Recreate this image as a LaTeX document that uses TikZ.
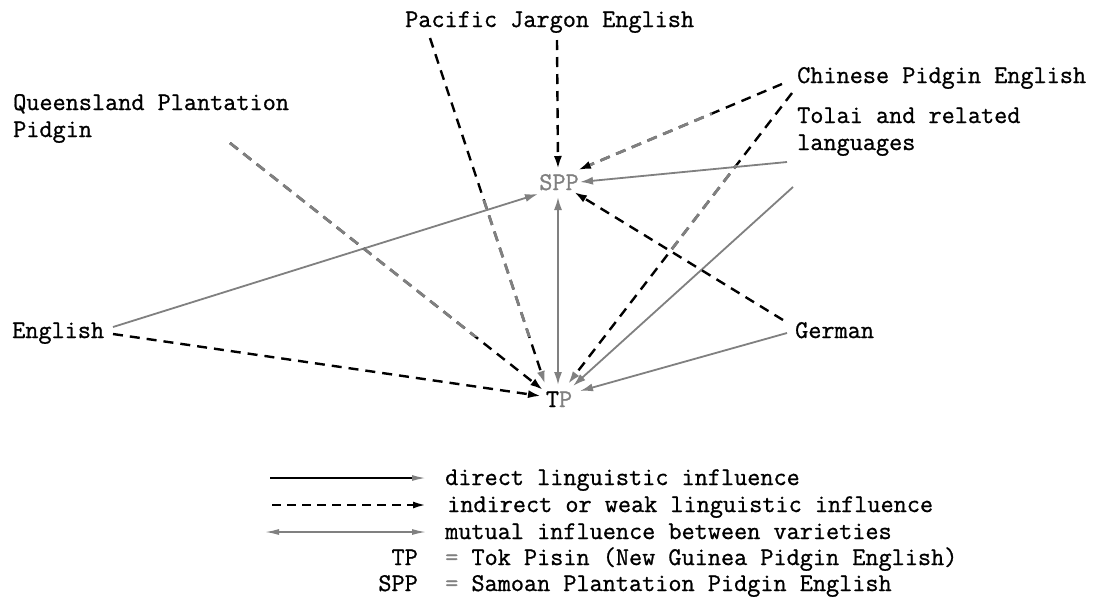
\documentclass[tikz,border=0pt]{standalone}
\usepackage{fontspec}
\newfontfamily\typew[FakeBold=0.9]{Latin Modern Mono}
\usetikzlibrary{arrows.meta}
\definecolor{ink}{HTML}{808080}
\begin{document}
\begin{tikzpicture}[x=1pt,y=-1pt,
  lbl/.style={font=\typew\fontsize{25.5}{27}\selectfont, inner sep=0pt, anchor=base west, align=left},
  tip/.style={-{Latex[length=13pt,width=8pt]}},
  tipg/.style={-{Latex[length=13pt,width=8pt,color=ink]}},
  solidg/.style={draw=ink, line width=1.8pt, -{Latex[length=13pt,width=8pt,color=ink]}},
  dashb/.style={draw=black, line width=2.4pt, dash pattern=on 10pt off 7pt},
  fadeg/.style={draw=ink, line width=2.8pt, dash pattern=on 10pt off 7pt},
]
\useasboundingbox (0,0) rectangle (1094,598);
\fill[white] (0,0) rectangle (1094,598);

% --- labels
\node[lbl] (pje) at (405,27) {Pacific Jargon English};
\node[lbl] (cpe) at (797,83) {Chinese Pidgin English};
\node[lbl] (qpp) at (13,137) {Queensland Plantation\\Pidgin};
\node[lbl] (tol) at (797,150) {Tolai and related\\languages};
\node[lbl] (eng) at (12,338) {English};
\node[lbl] (ger) at (795,338) {German};
\node[lbl, anchor=base, text=ink] (spp) at (559,190) {SPP};
\node[lbl, anchor=base] (tp) at (559,407) {T\textcolor{ink}{P}};

% --- attachment points
\coordinate (pje-a) at (430,38);
\coordinate (pje-b) at (557,40);
\coordinate (cpe-a) at (782,84);
\coordinate (cpe-b) at (792,93);
\coordinate (qpp-a) at (230,143);
\coordinate (tol-a) at (787,162);
\coordinate (tol-b) at (793,187);
\coordinate (eng-a) at (113,327);
\coordinate (eng-b) at (113,334);
\coordinate (ger-a) at (783,320);
\coordinate (ger-b) at (787,333);
\coordinate (spp-n) at (558,169);
\coordinate (spp-ne) at (578,170);
\coordinate (spp-e) at (580,182);
\coordinate (spp-w) at (538,194);
\coordinate (spp-se) at (574,192);
\coordinate (spp-s) at (558,197);
\coordinate (tp-n) at (558,385);
\coordinate (tp-nw1) at (545,384);
\coordinate (tp-nw2) at (543,390);
\coordinate (tp-w) at (541,396);
\coordinate (tp-ne1) at (568,384);
\coordinate (tp-ne2) at (573,386);
\coordinate (tp-e) at (580,391);

% --- solid grey connectors
\draw[solidg] (tol-a) -- (spp-e);
\draw[solidg] (tol-b) -- (tp-ne2);
\draw[solidg] (eng-a) -- (spp-w);
\draw[solidg] (ger-b) -- (tp-e);
\draw[solidg, {Latex[length=13pt,width=8pt,color=ink]}-{Latex[length=13pt,width=8pt,color=ink]}] (spp-s) -- (tp-n);

% --- dashed connectors
\draw[dashb, tip] (pje-b) -- (spp-n);
\draw[dashb, tipg] (pje-a) -- (tp-nw1);
\begin{scope}\clip (0,200) rectangle (1094,336);
\draw[fadeg] (pje-a) -- (tp-nw1);
\end{scope}
\draw[dashb, tip] (cpe-a) -- (spp-ne);
\begin{scope}\clip (590,0) rectangle (712,598);
\draw[fadeg] (cpe-a) -- (spp-ne);
\end{scope}
\draw[dashb, tipg] (cpe-b) -- (tp-ne1);
\begin{scope}\clip (0,165) rectangle (1094,250);
\draw[fadeg] (cpe-b) -- (tp-ne1);
\end{scope}
\draw[dashb, tip] (qpp-a) -- (tp-nw2);
\begin{scope}\clip (0,0) rectangle (1094,336);
\draw[fadeg] (qpp-a) -- (tp-nw2);
\end{scope}
\draw[dashb, tip] (eng-b) -- (tp-w);
\draw[dashb, tip] (ger-a) -- (spp-se);

% --- legend
\coordinate (l1a) at (270,478); \coordinate (l1b) at (426,478);
\coordinate (l2a) at (272,505); \coordinate (l2b) at (426,505);
\coordinate (l3a) at (265,532); \coordinate (l3b) at (426,532);
\draw[line width=1.8pt, -{Latex[length=14pt,width=6pt,color=ink]}] (l1a) -- (l1b);
\draw[line width=2.2pt, dash pattern=on 9pt off 6pt, -{Latex[length=13pt,width=7pt]}] (l2a) -- (l2b);
\draw[draw=ink, line width=1.5pt, {Latex[length=14pt,width=6pt,color=ink]}-{Latex[length=14pt,width=6pt,color=ink]}] (l3a) -- (l3b);
\node[lbl] (lg1) at (445,485) {direct linguistic influence};
\node[lbl] (lg2) at (447,512) {indirect or weak linguistic influence};
\node[lbl] (lg3) at (445,539) {mutual influence between varieties};
\node[lbl, anchor=base east] (lg4k) at (418,565) {TP};
\node[lbl] (lg4) at (445,565) {\textcolor{ink}{=} Tok Pisin (New Guinea Pidgin English)};
\node[lbl, anchor=base east] (lg5k) at (418,591) {SPP};
\node[lbl] (lg5) at (445,591) {\textcolor{ink}{=} Samoan Plantation Pidgin English};
\end{tikzpicture}
\end{document}
